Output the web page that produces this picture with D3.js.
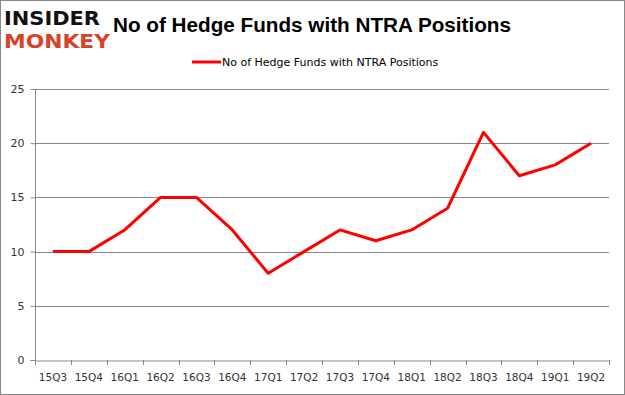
<!DOCTYPE html>
<html><head><meta charset="utf-8">
<script src="https://cdn.jsdelivr.net/npm/d3@7"></script>
<style>body{margin:0;background:#fff}svg{display:block}</style>
</head><body>
<svg id="c" width="625" height="395"></svg>
<script>
const categories = ["15Q3","15Q4","16Q1","16Q2","16Q3","16Q4","17Q1","17Q2","17Q3","17Q4","18Q1","18Q2","18Q3","18Q4","19Q1","19Q2"];
const values = [10,10,12,15,15,12,8,10,12,11,12,14,21,17,18,20];
const yTicks = [0,5,10,15,20,25];
const seriesName = "No of Hedge Funds with NTRA Positions";
const title = "No of Hedge Funds with NTRA Positions";

const svg = d3.select("#c");
const W = 625, H = 395;
svg.append("rect").attr("x",0.5).attr("y",0.5).attr("width",W-1).attr("height",H-1)
  .attr("fill","#fff").attr("stroke","#888");

const m = {l:35, r:609, t:89, b:360};
const x = d3.scaleBand().domain(categories).range([m.l, m.r]);
const y = d3.scaleLinear().domain([0,25]).range([m.b, m.t]);

// gridlines
svg.append("g").selectAll("line").data(yTicks.slice(1)).join("line")
  .attr("x1",m.l).attr("x2",m.r)
  .attr("y1",d=>Math.round(y(d))+0.5).attr("y2",d=>Math.round(y(d))+0.5)
  .attr("stroke","#888").attr("stroke-width",1);

// y axis
const ya = svg.append("g").attr("transform",`translate(${m.l+0.5},0)`)
  .call(d3.axisLeft(y).tickValues(yTicks).tickSize(5).tickPadding(6));
ya.select(".domain").attr("stroke","#888").attr("d",`M-5,${m.b+0.5}H0V${m.t}`);
ya.selectAll(".tick line").attr("stroke","#888");
ya.selectAll("text").attr("font-family","DejaVu Sans, sans-serif").attr("font-size",11).attr("fill","#333");

// x axis
const xa = svg.append("g").attr("transform",`translate(0,${m.b+0.5})`)
  .call(d3.axisBottom(x).tickSize(0).tickPadding(13));
xa.select(".domain").attr("stroke","#888");
xa.selectAll("text").attr("font-family","DejaVu Sans, sans-serif").attr("font-size",10.5).attr("fill","#333");
const edges = categories.map(c=>x(c)).concat([m.r]);
svg.append("g").selectAll("line").data(edges).join("line")
  .attr("x1",d=>Math.round(d)+0.5).attr("x2",d=>Math.round(d)+0.5)
  .attr("y1",m.b).attr("y2",m.b+5).attr("stroke","#888");

// line
const line = d3.line().x((d,i)=>x(categories[i])+x.bandwidth()/2).y(d=>y(d));
svg.append("path").datum(values).attr("d",line).attr("fill","none")
  .attr("stroke","#ff0000").attr("stroke-width",3).attr("stroke-linejoin","round");

// title
svg.append("text").attr("x",312).attr("y",32).attr("text-anchor","middle")
  .attr("font-family","Liberation Sans, Arial, sans-serif").attr("font-weight","bold")
  .attr("font-size",20.7).attr("fill","#000").text(title);

// legend
svg.append("line").attr("x1",192).attr("x2",221).attr("y1",62).attr("y2",62)
  .attr("stroke","#ff0000").attr("stroke-width",3);
svg.append("text").attr("x",222).attr("y",66).attr("font-family","DejaVu Sans, sans-serif")
  .attr("font-size",11).attr("fill","#000").text(seriesName);

// logo
svg.append("text").attr("x",4).attr("y",25).attr("font-family","DejaVu Sans, sans-serif")
  .attr("font-weight","bold").attr("font-size",20).attr("textLength",96).attr("lengthAdjust","spacingAndGlyphs")
  .attr("fill","#111").text("INSIDER");
svg.append("text").attr("x",4).attr("y",48).attr("font-family","DejaVu Sans, sans-serif")
  .attr("font-weight","bold").attr("font-size",19).attr("textLength",106).attr("lengthAdjust","spacingAndGlyphs")
  .attr("fill","#d9412b").text("MONKEY");
</script>
</body></html>
